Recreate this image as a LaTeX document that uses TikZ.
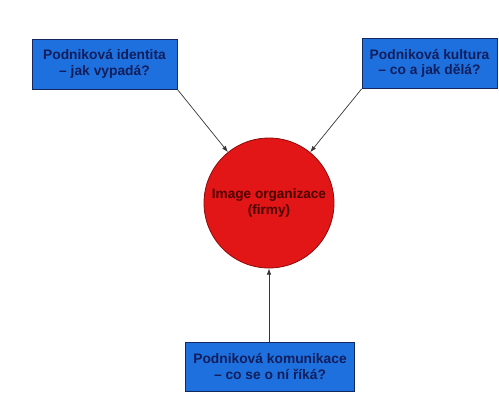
\documentclass[tikz,border=0pt]{standalone}
\usepackage{fontspec}
\usepackage{tikz}
\usepackage{xcolor}
\usetikzlibrary{positioning, shapes, arrows.meta}
\setmainfont{Liberation Sans}

\definecolor{boxblue}{RGB}{30,112,222}
\definecolor{boxline}{RGB}{20,40,95}
\definecolor{boxtext}{RGB}{18,30,92}
\definecolor{imgred}{RGB}{226,22,22}
\definecolor{imgline}{RGB}{140,10,10}
\definecolor{imgtext}{RGB}{75,0,0}
\definecolor{arrowgray}{RGB}{55,55,55}

\begin{document}
\begin{tikzpicture}[
  x=1pt,
  y=-1pt,
  aspect/.style={
    rectangle,
    draw=boxline,
    line width=0.8pt,
    fill=boxblue,
    text=boxtext,
    align=center,
    inner sep=1.2pt,
    minimum height=50pt,
    font=\fontsize{13.8}{15.5}\selectfont\bfseries,
  },
  image/.style={
    circle,
    draw=imgline,
    line width=0.8pt,
    fill=imgred,
    text=imgtext,
    align=center,
    minimum size=130pt,
    inner sep=0pt,
    font=\fontsize{13.6}{15.5}\selectfont\bfseries,
  },
  link/.style={draw=arrowgray, line width=0.7pt, -{Latex[length=2.2mm, width=1.6mm]}},
]
\useasboundingbox[fill=white] (0,0) rectangle (499,392);
\node[image] (img) at (269,203) {Image organizace\\(firmy)};
\node[aspect, minimum width=145pt] (ident) at (104.5,64) {Podniková identita\\– jak vypadá?};
\node[aspect, minimum width=135pt] (kult) at (429.5,63.5) {Podniková kultura\\– co a jak dělá?};
\node[aspect, minimum width=169pt, minimum height=49pt] (komu) at (270,366.5) {Podniková komunikace\\– co se o ní říká?};
\draw[link] (ident.south east) -- (img);
\draw[link] (kult.south west) -- (img);
\draw[link] (komu.north -| img) -- (img);
\end{tikzpicture}
\end{document}
